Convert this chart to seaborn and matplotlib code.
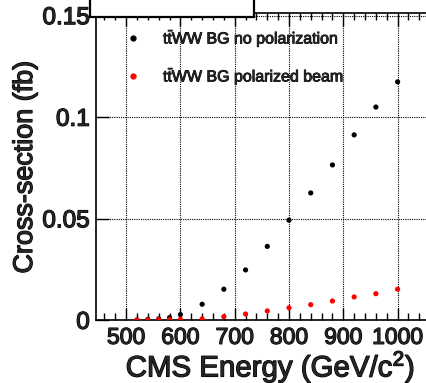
import matplotlib
matplotlib.use("Agg")
import matplotlib.pyplot as plt
import matplotlib.patheffects as pe
import seaborn as sns
import pandas as pd
from matplotlib.patches import Rectangle
from matplotlib.ticker import MultipleLocator, NullLocator

energy = [520, 540, 560, 580, 600, 640, 680, 720, 760, 800, 840, 880, 920, 960, 1000]
no_pol = [0.0002, 0.0004, 0.0007, 0.0013, 0.0028, 0.0079, 0.0153, 0.0248, 0.0364,
          0.0493, 0.0627, 0.0765, 0.0913, 0.105, 0.1174]
pol = [0.0001, 0.0002, 0.0003, 0.0004, 0.0005, 0.0007, 0.0018, 0.0031, 0.0046,
       0.0062, 0.0077, 0.0095, 0.0115, 0.0131, 0.0153]
labels = ["t$\\bar{\\rm t}$WW BG no polarization", "t$\\bar{\\rm t}$WW BG polarized beam"]
xticks = [500, 600, 700, 800, 900, 1000]
yticks = [0, 0.05, 0.1, 0.15]
yticklabels = ["0", "0.05", "0.1", "0.15"]

df = pd.concat([
    pd.DataFrame({"E": energy, "xs": no_pol, "s": labels[0]}),
    pd.DataFrame({"E": energy, "xs": pol, "s": labels[1]}),
])

sns.set_theme(style="white")
plt.rcParams['font.family'] = ['Liberation Sans', 'DejaVu Sans']
plt.rcParams['mathtext.fontset'] = 'custom'
plt.rcParams['mathtext.rm'] = 'Liberation Sans'
plt.rcParams['mathtext.it'] = 'Liberation Sans'

heavy = [pe.withStroke(linewidth=0.9, foreground="black")]
heavy_s = [pe.withStroke(linewidth=0.6, foreground="black")]

fig = plt.figure(figsize=(4.26, 3.83), dpi=100)
W, H = 426, 383
x0, y0 = 95.7, 320.3
xmin, xmax = 444, 1080
ppu = 0.543
ax = fig.add_axes([x0 / W, (H - y0) / H, (xmax - xmin) * ppu / W, (y0 - 13) / H])

sns.scatterplot(data=df, x="E", y="xs", hue="s", palette=["black", "red"],
                s=14, edgecolor="none", ax=ax, legend=False, zorder=3)

ax.set_xlim(xmin, xmax)
ax.set_ylim(0, 0.1513)
ax.xaxis.set_minor_locator(MultipleLocator(20))
ax.yaxis.set_minor_locator(NullLocator())
ax.set_yticks(yticks)
ax.set_yticklabels(yticklabels)
ax.set_xticks(xticks)
ax.set_xticklabels([str(v) for v in xticks])
ax.tick_params(axis="both", which="major", direction="in", length=9, width=1,
               top=True, right=True, color="black")
ax.tick_params(axis="both", which="minor", direction="in", length=5, width=1,
               top=True, right=True, color="black")
ax.tick_params(axis="x", which="major", labelsize=16.5, pad=4)
ax.tick_params(axis="y", which="major", labelsize=17.5, pad=4.2)
ax.xaxis.set_tick_params(which="both", bottom=True)
ax.yaxis.set_tick_params(which="both", left=True)
for lab in ax.get_xticklabels() + ax.get_yticklabels():
    lab.set_path_effects(heavy)
ax.grid(True, which="major", color="black", linestyle=(0, (1, 1)), linewidth=0.8)
for sp in ax.spines.values():
    sp.set_color("black")
    sp.set_linewidth(1.2)

ax.set_xlabel("")
ax.set_ylabel("")
fig.text(270 / W, 1 - 376.5 / H, "CMS Energy (GeV/c$^{2}$)", fontsize=21.2,
         ha="center", va="baseline", path_effects=heavy)
fig.text(25 / W, 1 - 167.5 / H, "Cross-section (fb)", fontsize=19.4,
         ha="center", va="center", rotation=90, path_effects=heavy)

# legend
for i, (lab, col) in enumerate(zip(labels, ["black", "red"])):
    yy = [38, 76][i]
    fig.add_artist(plt.Line2D([133 / W], [1 - yy / H], marker="o", markersize=3.5,
                              color=col, linestyle="none"))
    fig.text(163 / W, 1 - yy / H, lab, fontsize=11.5,
             ha="left", va="center", path_effects=heavy_s)

# empty title box
fig.add_artist(Rectangle((90 / W, 1 - 17 / H), (254 - 90) / W, 20 / H,
                         transform=fig.transFigure, facecolor="white",
                         edgecolor="black", linewidth=1.6, zorder=10))

fig.savefig("out.png", dpi=100)
